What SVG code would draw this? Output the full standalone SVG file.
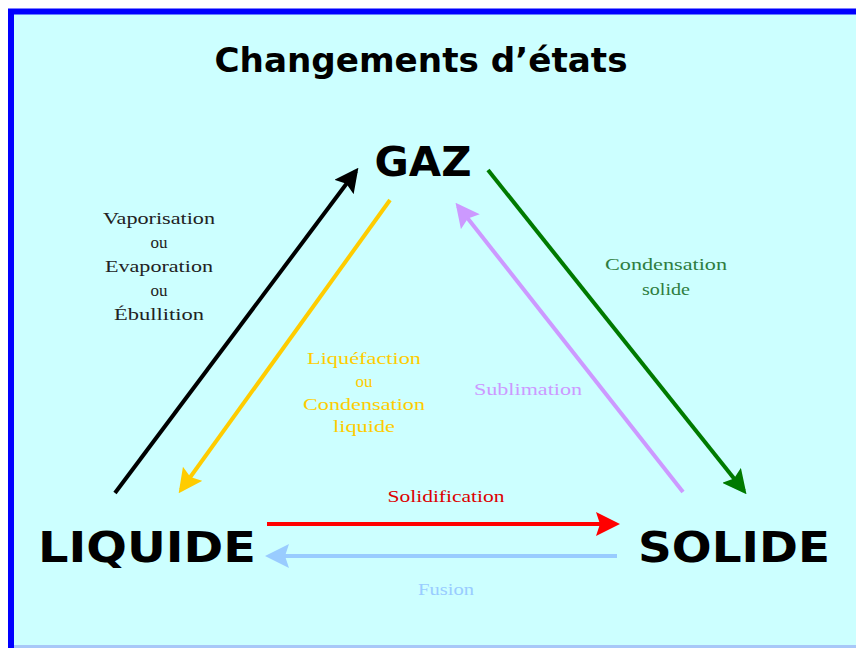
<svg xmlns="http://www.w3.org/2000/svg" width="856" height="648" viewBox="0 0 856 648">
<style>
.big{font-family:"DejaVu Sans",Verdana,sans-serif;font-weight:bold;fill:#000}
.lbl{font-family:"Liberation Serif","Times New Roman",serif;font-size:17px;text-anchor:middle}
.arr{fill:none;stroke-width:4}
</style>
<defs>
<marker id="mk-black" markerUnits="userSpaceOnUse" viewBox="0 0 24 24" refX="20" refY="12" markerWidth="24" markerHeight="24" orient="auto"><path d="M0,0 L24,12 L0,24 L4,12 z" fill="#000"/></marker>
<marker id="mk-yellow" markerUnits="userSpaceOnUse" viewBox="0 0 24 24" refX="20" refY="12" markerWidth="24" markerHeight="24" orient="auto"><path d="M0,0 L24,12 L0,24 L4,12 z" fill="#ffcc00"/></marker>
<marker id="mk-purple" markerUnits="userSpaceOnUse" viewBox="0 0 24 24" refX="20" refY="12" markerWidth="24" markerHeight="24" orient="auto"><path d="M0,0 L24,12 L0,24 L4,12 z" fill="#cc99ff"/></marker>
<marker id="mk-green" markerUnits="userSpaceOnUse" viewBox="0 0 24 24" refX="20" refY="12" markerWidth="24" markerHeight="24" orient="auto"><path d="M0,0 L24,12 L0,24 L4,12 z" fill="#007a00"/></marker>
<marker id="mk-red" markerUnits="userSpaceOnUse" viewBox="0 0 24 24" refX="20" refY="12" markerWidth="24" markerHeight="24" orient="auto"><path d="M0,0 L24,12 L0,24 L4,12 z" fill="#ff0000"/></marker>
<marker id="mk-blue" markerUnits="userSpaceOnUse" viewBox="0 0 24 24" refX="20" refY="12" markerWidth="24" markerHeight="24" orient="auto"><path d="M0,0 L24,12 L0,24 L4,12 z" fill="#99ccff"/></marker>
</defs>
<rect x="0" y="0" width="856" height="648" fill="#ffffff"/>
<rect x="11" y="11.5" width="850" height="640" fill="#ccffff" stroke="#0000ff" stroke-width="6"/>
<line x1="14" y1="646.5" x2="856" y2="646.5" stroke="#a8c8f8" stroke-width="3"/>
<text id="title" class="big" x="421" y="72" font-size="33" fill="#1a1a1a" text-anchor="middle" textLength="413" lengthAdjust="spacingAndGlyphs">Changements d’états</text>

<g id="connectors">
<g id="vaporisation">
<path class="arr" d="M115,493 L356,171" stroke="#000" marker-end="url(#mk-black)"/>
<text class="lbl" fill="#222"><tspan x="159" y="224" textLength="112" lengthAdjust="spacingAndGlyphs">Vaporisation</tspan><tspan x="159" y="248">ou</tspan><tspan x="159" y="272" textLength="108" lengthAdjust="spacingAndGlyphs">Evaporation</tspan><tspan x="159" y="296">ou</tspan><tspan x="159" y="320" textLength="90" lengthAdjust="spacingAndGlyphs">Ébullition</tspan></text>
</g>
<g id="liquefaction">
<path class="arr" d="M390,200 L181,490" stroke="#ffcc00" marker-end="url(#mk-yellow)"/>
<text class="lbl" fill="#ffcc00"><tspan x="364" y="364" textLength="114" lengthAdjust="spacingAndGlyphs">Liquéfaction</tspan><tspan x="364" y="387">ou</tspan><tspan x="364" y="410" textLength="122" lengthAdjust="spacingAndGlyphs">Condensation</tspan><tspan x="364" y="432" textLength="62" lengthAdjust="spacingAndGlyphs">liquide</tspan></text>
</g>
<g id="sublimation">
<path class="arr" d="M683,492 L458,206" stroke="#cc99ff" marker-end="url(#mk-purple)"/>
<text class="lbl" fill="#cc99ff" x="528" y="395" textLength="108" lengthAdjust="spacingAndGlyphs">Sublimation</text>
</g>
<g id="condensation-solide">
<path class="arr" d="M488,170 L744,491" stroke="#007a00" marker-end="url(#mk-green)"/>
<text class="lbl" fill="#2e7d40"><tspan x="666" y="270" textLength="122" lengthAdjust="spacingAndGlyphs">Condensation</tspan><tspan x="666" y="295" textLength="48" lengthAdjust="spacingAndGlyphs">solide</tspan></text>
</g>
<g id="solidification">
<path class="arr" d="M267,524 L616,524" stroke="#ff0000" marker-end="url(#mk-red)"/>
<text class="lbl" fill="#dd0000" x="446" y="502" textLength="117" lengthAdjust="spacingAndGlyphs">Solidification</text>
</g>
<g id="fusion">
<path class="arr" d="M617,556 L269,556" stroke="#99ccff" marker-end="url(#mk-blue)"/>
<text class="lbl" fill="#99ccff" x="446" y="595" textLength="56" lengthAdjust="spacingAndGlyphs">Fusion</text>
</g>
</g>

<g id="node-gaz"><text class="big" x="423" y="176" font-size="41" text-anchor="middle" textLength="97" lengthAdjust="spacingAndGlyphs">GAZ</text></g>
<g id="node-liquide"><text class="big" x="147" y="562" font-size="43" text-anchor="middle" textLength="218" lengthAdjust="spacingAndGlyphs">LIQUIDE</text></g>
<g id="node-solide"><text class="big" x="734" y="562" font-size="43" text-anchor="middle" textLength="192" lengthAdjust="spacingAndGlyphs">SOLIDE</text></g>
</svg>
